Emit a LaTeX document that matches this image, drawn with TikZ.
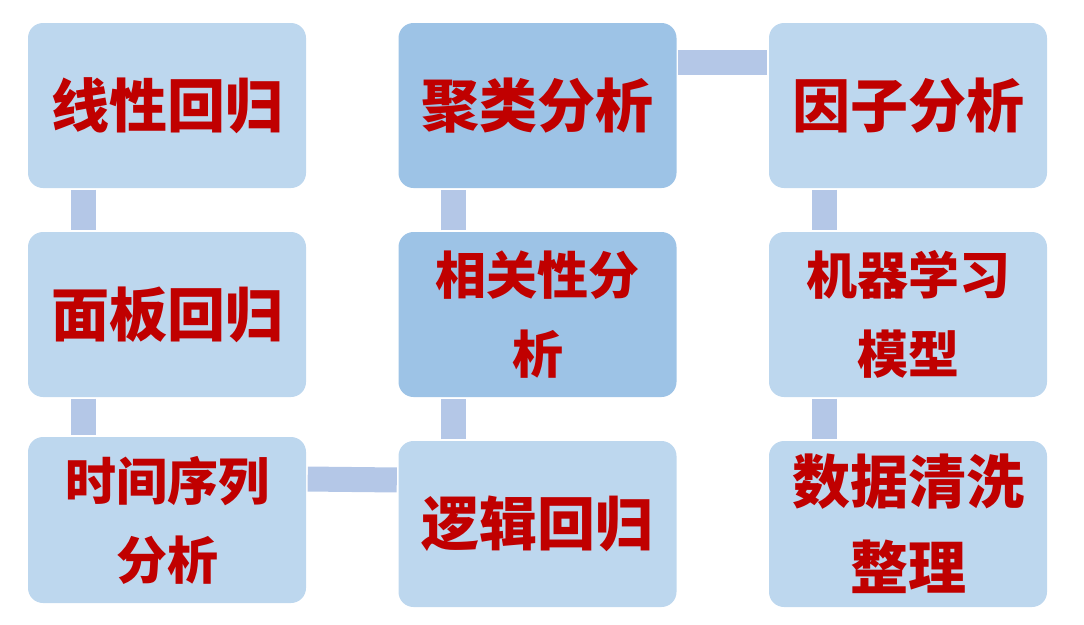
\documentclass[tikz,border=0pt]{standalone}
\usepackage{fontspec}
\newfontfamily\cjk{Noto Sans CJK SC}
\definecolor{boxlight}{HTML}{BDD7EE}
\definecolor{boxdark}{HTML}{9DC3E6}
\definecolor{connc}{HTML}{B4C7E7}
\definecolor{txtred}{HTML}{C00000}
\tikzset{
  card/.style={fill=boxlight, draw=none, rounded corners=15pt, minimum width=278pt, minimum height=165pt, inner sep=0pt, text=txtred, align=center},
  carddark/.style={card, fill=boxdark},
  bigtxt/.style={font=\cjk\bfseries\fontsize{58}{86}\selectfont},
  smalltxt/.style={font=\cjk\bfseries\fontsize{51}{79}\selectfont},
  conn/.style={draw=connc, line width=25pt, line cap=butt, shorten <=1.5pt, shorten >=1.5pt}
}
\begin{document}
\begin{tikzpicture}[x=1pt,y=-1pt]
\useasboundingbox (0,0) rectangle (1084,624);
\node[card,bigtxt] (lin) at (167,105.5) {线性回归};
\node[card,bigtxt] (pan) at (167,314.5) {面板回归};
\node[card,smalltxt,minimum height=166pt] (ts) at (167,520) {时间序列\\分析};
\node[carddark,bigtxt] (clu) at (537.5,105.5) {聚类分析};
\node[carddark,smalltxt] (cor) at (537.5,314.5) {相关性分\\析};
\node[card,bigtxt,minimum height=166pt] (log) at (537.5,524) {逻辑回归};
\node[card,bigtxt] (fac) at (908,105.5) {因子分析};
\node[card,smalltxt] (ml) at (908,314.5) {机器学习\\模型};
\node[card,bigtxt,minimum height=166pt] (dat) at (908,524) {数据清洗\\整理};
\draw[conn] ([xshift=-83.5pt]lin.south) -- ([xshift=-83.5pt]pan.north);
\draw[conn] ([xshift=-83.5pt]pan.south) -- ([xshift=-83.5pt]ts.north);
\draw[conn] ([yshift=41pt]ts.east) -- ([yshift=44pt]log.west);
\draw[conn] ([xshift=-84pt]log.north) -- ([xshift=-84pt]cor.south);
\draw[conn] ([xshift=-84pt]cor.north) -- ([xshift=-84pt]clu.south);
\draw[conn] ([yshift=43pt]clu.east) -- ([yshift=43pt]fac.west);
\draw[conn] ([xshift=-83.5pt]fac.south) -- ([xshift=-83.5pt]ml.north);
\draw[conn] ([xshift=-83.5pt]ml.south) -- ([xshift=-83.5pt]dat.north);
\end{tikzpicture}
\end{document}
